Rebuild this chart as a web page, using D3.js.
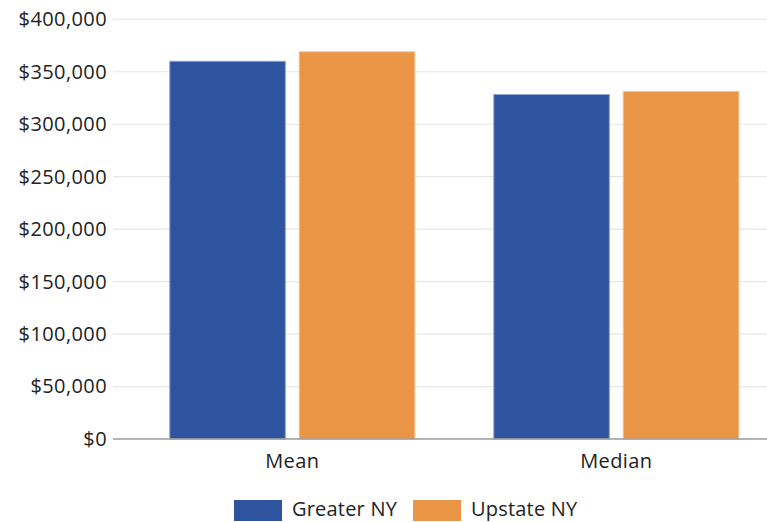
<!DOCTYPE html>
<html><head><meta charset="utf-8">
<script src="https://cdn.jsdelivr.net/npm/d3@7"></script>
<style>body{margin:0;background:#fff;} svg{display:block;font-family:"Open Sans","Noto Sans",sans-serif;}</style>
</head><body>
<svg id="c" width="767" height="522"></svg>
<script>
const categories = ["Mean", "Median"];
const seriesNames = ["Greater NY", "Upstate NY"];
const greaterNY = [360000, 328300];
const upstateNY = [369000, 331100];
const yTicks = [0, 50000, 100000, 150000, 200000, 250000, 300000, 350000, 400000];
const colors = ["#2e54a0", "#e99545"];
const strokes = ["#8fa3cf", "#f2bf8e"];

(function () {
const svg = d3.select("#c");
const pLeft = 113, pRight = 795.6, pTop = 19.3, pBottom = 439;
const x = d3.scaleBand().domain(categories).range([pLeft, pRight]).paddingInner(0.2407).paddingOuter(0.1737);
const xs = d3.scaleBand().domain(seriesNames).range([0, x.bandwidth()]).paddingInner(0.1).paddingOuter(0);
const y = d3.scaleLinear().domain([0, 400000]).range([pBottom, pTop]);

svg.append("g").selectAll("line").data(yTicks.filter(d => d > 0)).join("line")
  .attr("x1", pLeft).attr("x2", pRight).attr("y1", d => y(d)).attr("y2", d => y(d))
  .attr("stroke", "#e6e6e6").attr("stroke-width", 1.2);

const yAxis = d3.axisLeft(y).tickValues(yTicks).tickSize(0).tickPadding(6)
  .tickFormat(d => "$" + d3.format(",")(d));
const ya = svg.append("g").attr("transform", `translate(${pLeft},0)`).call(yAxis);
ya.attr("font-size", null).attr("font-family", null);
ya.select(".domain").remove();
ya.selectAll("text").style("font-size", "20px").style("letter-spacing", "0.4px").attr("fill", "#222");

const rows = categories.map((c, i) => ({cat: c, vals: [greaterNY[i], upstateNY[i]]}));
const g = svg.append("g");
rows.forEach(r => {
  r.vals.forEach((v, j) => {
    g.append("rect")
      .attr("x", x(r.cat) + xs(seriesNames[j]) + 0.5)
      .attr("y", y(v))
      .attr("width", xs.bandwidth() - 1)
      .attr("height", pBottom - y(v))
      .attr("fill", colors[j])
      .attr("stroke", strokes[j]).attr("stroke-width", 1);
  });
});

svg.append("line").attr("x1", pLeft).attr("x2", pRight).attr("y1", pBottom).attr("y2", pBottom)
  .attr("stroke", "#9a9a9a").attr("stroke-width", 1.3);

const xAxis = d3.axisBottom(x).tickSize(0).tickPadding(15);
const xa = svg.append("g").attr("transform", `translate(0,${pBottom})`).call(xAxis);
xa.attr("font-size", null).attr("font-family", null);
xa.select(".domain").remove();
xa.selectAll("text").style("font-size", "20px").style("letter-spacing", "0.4px").attr("fill", "#222");

const legendX = [234, 413];
const lg = svg.append("g");
seriesNames.forEach((s, j) => {
  lg.append("rect").attr("x", legendX[j]).attr("y", 500).attr("width", 48).attr("height", 21)
    .attr("fill", colors[j]);
  lg.append("text").attr("x", legendX[j] + 58).attr("y", 516).text(s)
    .style("font-size", "20px").style("letter-spacing", "0.2px").attr("fill", "#222");
});
})();
</script>
</body></html>
